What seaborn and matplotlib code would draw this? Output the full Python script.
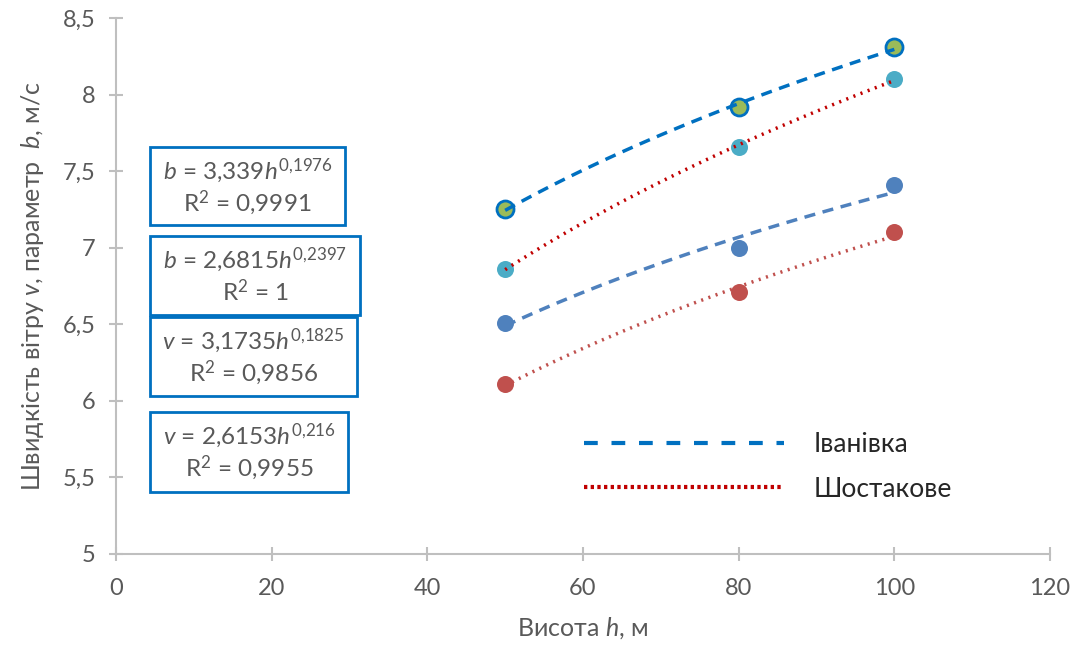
import numpy as np
import pandas as pd
import matplotlib
matplotlib.use("Agg")
import matplotlib.pyplot as plt
import seaborn as sns
from matplotlib.lines import Line2D

# ---- data ----
heights = [50, 80, 100]
b_ivanivka = [7.25, 7.92, 8.31]
b_shostakove = [6.86, 7.66, 8.10]
v_ivanivka = [6.51, 7.00, 7.41]
v_shostakove = [6.11, 6.71, 7.10]
legend_labels = ["Іванівка", "Шостакове"]
equations = [
    (r"$\mathit{b}$ = 3,339$\mathit{h}^{0{,}1976}$", r"R$^{2}$ = 0,9991"),
    (r"$\mathit{b}$ = 2,6815$\mathit{h}^{0{,}2397}$", r"R$^{2}$ = 1"),
    (r"$\mathit{v}$ = 3,1735$\mathit{h}^{0{,}1825}$", r"R$^{2}$ = 0,9856"),
    (r"$\mathit{v}$ = 2,6153$\mathit{h}^{0{,}216}$", r"R$^{2}$ = 0,9955"),
]
x_ticks = [0, 20, 40, 60, 80, 100, 120]
y_ticks = [5, 5.5, 6, 6.5, 7, 7.5, 8, 8.5]

sns.set_theme(style="white")
FONT = ["Lato", "DejaVu Sans"]
plt.rcParams["font.family"] = FONT
plt.rcParams["mathtext.fontset"] = "custom"
plt.rcParams["mathtext.rm"] = "Lato"
plt.rcParams["mathtext.it"] = "Lato:italic"

GRAY = "#595959"
fig = plt.figure(figsize=(10.82, 6.53), dpi=100)
ax = fig.add_axes([116 / 1082, 1 - 554 / 653, (1050 - 116) / 1082, (554 - 18) / 653])

def power_fit(x, y):
    x = np.asarray(x, float); y = np.asarray(y, float)
    k, loga = np.polyfit(np.log(x), np.log(y), 1)
    xs = np.linspace(x.min(), x.max(), 100)
    return xs, np.exp(loga) * xs ** k

series = [
    (b_ivanivka, "#9BBB59", "#0070C0", "#0070C0", (0, (3.2, 2.2))),
    (b_shostakove, "#4BACC6", "#4BACC6", "#C00000", (0, (0.6, 1.6))),
    (v_ivanivka, "#4F81BD", "#4F81BD", "#4F81BD", (0, (3.2, 2.2))),
    (v_shostakove, "#C0504D", "#C0504D", "#C0504D", (0, (0.6, 1.6))),
]
for vals, face, edge, lcol, ls in series:
    df = pd.DataFrame({"h": heights, "y": vals})
    sns.scatterplot(data=df, x="h", y="y", ax=ax, s=150, color=face,
                    edgecolor=edge, linewidth=2.0 if edge != face else 0, zorder=3)
for vals, face, edge, lcol, ls in series:
    xs, ys = power_fit(heights, vals)
    ax.plot(xs, ys, color=lcol, lw=2.5, linestyle=ls, zorder=4)

ax.set_xlim(0, 120)
ax.set_ylim(5, 8.5)
ax.set_xticks(x_ticks)
ax.set_xticklabels([str(t) for t in x_ticks])
ax.set_yticks(y_ticks)
ax.set_yticklabels([("%g" % t).replace(".", ",") for t in y_ticks])
for sp in ["top", "right"]:
    ax.spines[sp].set_visible(False)
for sp in ["left", "bottom"]:
    ax.spines[sp].set_color("#BFBFBF")
    ax.spines[sp].set_linewidth(1.5)
ax.tick_params(axis="both", direction="inout", length=10, width=1.5, color="#BFBFBF",
               labelcolor=GRAY, labelsize=17, left=True, bottom=True)
ax.tick_params(axis="y", pad=10)
ax.tick_params(axis="x", pad=12)
ax.set_xlabel(r"Висота $\mathit{h}$, м", fontsize=18, color=GRAY, labelpad=12)
ax.set_ylabel(r"Швидкість вітру $\mathit{v}$, параметр  $\mathit{b}$, м/с", fontsize=18,
              color=GRAY, labelpad=12)
ax.grid(False)

# equation boxes (pixel boxes)
boxes = [(150, 147, 345, 225), (150, 236, 360, 315), (150, 317, 357, 396), (150, 412, 348, 492)]
for (x0, y0, x1, y1), (l1, l2) in zip(boxes, equations):
    rect = plt.Rectangle((x0 / 1082, 1 - y1 / 653), (x1 - x0) / 1082, (y1 - y0) / 653,
                         transform=fig.transFigure, fill=True, facecolor="white",
                         edgecolor="#0070C0", lw=2, zorder=5)
    fig.patches.append(rect)
    cx = (x0 + x1) / 2 / 1082
    fig.text(cx, 1 - (y0 + 24) / 653, l1, ha="center", va="center", fontsize=17.5,
             color=GRAY, zorder=6)
    fig.text(cx, 1 - (y0 + 56) / 653, l2, ha="center", va="center", fontsize=17.5,
             color=GRAY, zorder=6)

# legend
handles = [Line2D([], [], color="#0070C0", lw=3.0, linestyle=(0, (3.3, 3.3))),
           Line2D([], [], color="#C00000", lw=3.0, linestyle=(0, (0.8, 0.8)))]
leg = ax.legend(handles, legend_labels, loc="upper left", bbox_to_anchor=(560 / 1082, 1 - 408 / 653),
                bbox_transform=fig.transFigure, frameon=False, fontsize=19, handlelength=7.6,
                handletextpad=1.1, labelspacing=0.75)
for t in leg.get_texts():
    t.set_color("#262626")

fig.savefig("out.png", dpi=100)
